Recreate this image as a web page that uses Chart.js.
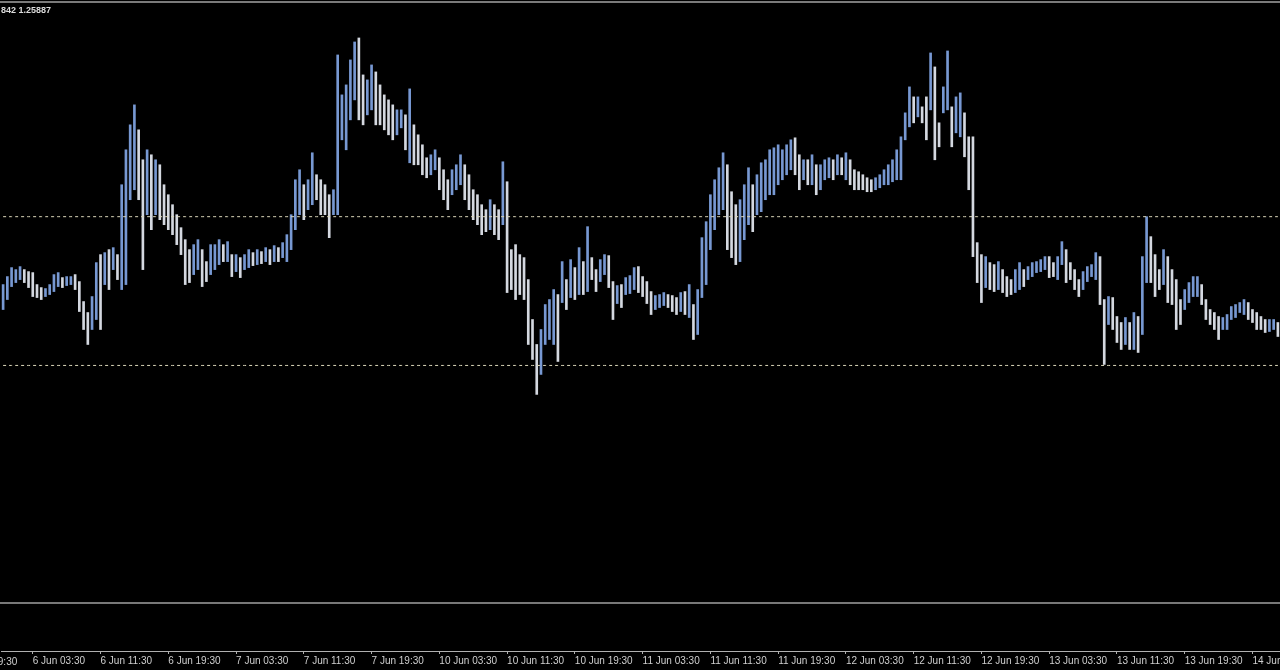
<!DOCTYPE html>
<html>
<head>
<meta charset="utf-8">
<script src="https://cdn.jsdelivr.net/npm/chart.js@4"></script>
<style>
  html, body { margin: 0; padding: 0; background: #000; }
  canvas { display: block; }
</style>
</head>
<body>
<canvas id="chart" width="1280" height="670"></canvas>
<script>
// 30 minute bars, weekend skipped
const days = ['6 Jun', '7 Jun', '10 Jun', '11 Jun', '12 Jun', '13 Jun', '14 Jun'];
const lastDayBars = 14;
const tickTimes = ['03:30', '11:30', '19:30'];
const leadLabel = '5 Jun 19:30';   // previous label, cut off at the left edge
const leadOffset = -9;             // its bar position before the first bar
const headerText = '842 1.25887';

const highs = [
  1.27375, 1.27415, 1.2746, 1.2745, 1.27465, 1.2745, 1.2744, 1.27435, 1.27375, 1.2736,
  1.27355, 1.27375, 1.27425, 1.27435, 1.2741, 1.27415, 1.27415, 1.27425, 1.2739, 1.2729,
  1.27235, 1.27315, 1.27485, 1.27525, 1.27535, 1.2755, 1.2756, 1.27525, 1.27875, 1.2805,
  1.28175, 1.28275, 1.2815, 1.2800, 1.2805, 1.28025, 1.2800, 1.27975, 1.27875, 1.27825,
  1.27775, 1.27725, 1.2766, 1.2760, 1.2755, 1.27575, 1.2760, 1.2755, 1.2749, 1.27575,
  1.27575, 1.2760, 1.27575, 1.2759, 1.27525, 1.27525, 1.2751, 1.27525, 1.2755, 1.27535,
  1.2755, 1.2754, 1.2756, 1.2755, 1.2757, 1.2756, 1.27585, 1.27625, 1.27725, 1.2790,
  1.2795, 1.27875, 1.2790, 1.28035, 1.27925, 1.2790, 1.27875, 1.27825, 1.2785, 1.28525,
  1.28325, 1.28375, 1.2850, 1.2859, 1.2861, 1.28425, 1.2840, 1.28475, 1.2844, 1.28375,
  1.28325, 1.2830, 1.28275, 1.2825, 1.2825, 1.28225, 1.28355, 1.28175, 1.28125, 1.28075,
  1.2801, 1.28025, 1.2805, 1.2801, 1.2795, 1.2790, 1.2795, 1.27975, 1.28025, 1.27975,
  1.27925, 1.2785, 1.27825, 1.27775, 1.2775, 1.2780, 1.27775, 1.2775, 1.2799, 1.2789,
  1.2755, 1.27575, 1.27525, 1.2751, 1.2740, 1.2720, 1.27075, 1.2715, 1.27275, 1.2730,
  1.2735, 1.27325, 1.2749, 1.2740, 1.2750, 1.2746, 1.2756, 1.2749, 1.27665, 1.2751,
  1.2745, 1.2750, 1.27525, 1.2752, 1.2739, 1.2737, 1.27375, 1.2741, 1.2742, 1.2746,
  1.27465, 1.27415, 1.2739, 1.2734, 1.2732, 1.27325, 1.27335, 1.27325, 1.2732, 1.2731,
  1.27335, 1.2734, 1.27375, 1.27275, 1.2735, 1.2761, 1.2769, 1.27825, 1.2790, 1.2796,
  1.28035, 1.27975, 1.2784, 1.27775, 1.2780, 1.27875, 1.2796, 1.27875, 1.27925, 1.27985,
  1.2800, 1.2805, 1.2806, 1.28075, 1.2805, 1.28075, 1.2810, 1.2811, 1.28025, 1.2800,
  1.2800, 1.28025, 1.27975, 1.27975, 1.2800, 1.2801, 1.2800, 1.28025, 1.2801, 1.28035,
  1.2800, 1.2795, 1.2794, 1.27925, 1.2791, 1.2790, 1.2791, 1.27925, 1.2795, 1.27975,
  1.2800, 1.2805, 1.28115, 1.28235, 1.28365, 1.28315, 1.28315, 1.28265, 1.28315, 1.28535,
  1.28465, 1.28185, 1.28365, 1.28545, 1.28265, 1.28315, 1.28335, 1.28235, 1.28115, 1.28115,
  1.27585, 1.27525, 1.27515, 1.27485, 1.27475, 1.2749, 1.2745, 1.27415, 1.2740, 1.2745,
  1.27485, 1.2745, 1.27465, 1.27485, 1.2749, 1.2750, 1.27515, 1.27515, 1.27485, 1.27515,
  1.2759, 1.2755, 1.27485, 1.2745, 1.2740, 1.2744, 1.27465, 1.27475, 1.27535, 1.27515,
  1.2730, 1.27315, 1.2731, 1.27215, 1.27185, 1.2721, 1.27185, 1.27235, 1.27215, 1.27515,
  1.27715, 1.27615, 1.27525, 1.2745, 1.2755, 1.27515, 1.2745, 1.2740, 1.2730, 1.2735,
  1.27385, 1.27415, 1.27415, 1.27375, 1.2730, 1.2725, 1.27235, 1.27215, 1.2721, 1.27225,
  1.27265, 1.27275, 1.27285, 1.2730, 1.27285, 1.2725, 1.27235, 1.27215, 1.2720, 1.2720,
  1.2720, 1.27185
];

const lows = [
  1.2725, 1.2730, 1.27365, 1.27385, 1.2740, 1.27385, 1.2736, 1.27315, 1.2731, 1.2730,
  1.27315, 1.27325, 1.2734, 1.27365, 1.2736, 1.2737, 1.27375, 1.2735, 1.2724, 1.2715,
  1.27075, 1.2715, 1.2720, 1.2715, 1.27375, 1.2735, 1.2745, 1.2740, 1.2735, 1.27375,
  1.2780, 1.2785, 1.2780, 1.2745, 1.27725, 1.2765, 1.27725, 1.2770, 1.27675, 1.2765,
  1.27625, 1.27575, 1.27525, 1.27375, 1.27385, 1.27425, 1.2745, 1.27365, 1.2739, 1.27425,
  1.2745, 1.27475, 1.2749, 1.2749, 1.27415, 1.2744, 1.2741, 1.2745, 1.2746, 1.2747,
  1.27475, 1.2748, 1.2749, 1.27475, 1.2749, 1.2749, 1.2751, 1.2749, 1.2755, 1.2765,
  1.27725, 1.2770, 1.2775, 1.27775, 1.2780, 1.27725, 1.27725, 1.2761, 1.27725, 1.27725,
  1.2810, 1.2805, 1.2820, 1.2830, 1.2820, 1.28175, 1.28225, 1.2825, 1.28175, 1.28175,
  1.2815, 1.28125, 1.2810, 1.28125, 1.2816, 1.2805, 1.27985, 1.27975, 1.27975, 1.27925,
  1.2791, 1.27925, 1.2795, 1.2785, 1.2780, 1.2775, 1.27825, 1.2785, 1.27875, 1.2780,
  1.2775, 1.2770, 1.27675, 1.27625, 1.2764, 1.2765, 1.27625, 1.2760, 1.27675, 1.27335,
  1.2735, 1.2730, 1.27325, 1.2730, 1.27075, 1.2700, 1.26825, 1.26925, 1.27075, 1.2710,
  1.27075, 1.2699, 1.27285, 1.2725, 1.2731, 1.2730, 1.27325, 1.27325, 1.2734, 1.2740,
  1.2734, 1.2739, 1.27425, 1.2736, 1.2720, 1.2728, 1.2726, 1.27325, 1.2733, 1.2735,
  1.27335, 1.27315, 1.2728, 1.27225, 1.2725, 1.2726, 1.2727, 1.2726, 1.2724, 1.27225,
  1.2724, 1.27225, 1.2721, 1.2710, 1.27125, 1.2731, 1.27375, 1.2755, 1.2765, 1.27725,
  1.2775, 1.2755, 1.2751, 1.27475, 1.2749, 1.2760, 1.27675, 1.2764, 1.27725, 1.2774,
  1.2780, 1.27825, 1.27825, 1.27875, 1.2790, 1.27925, 1.2795, 1.27925, 1.2785, 1.2790,
  1.27875, 1.27875, 1.27825, 1.2785, 1.2790, 1.2791, 1.2790, 1.27925, 1.27925, 1.2790,
  1.27875, 1.2785, 1.2785, 1.2785, 1.2784, 1.2784, 1.2785, 1.2786, 1.27875, 1.27875,
  1.2789, 1.2790, 1.2790, 1.2810, 1.28165, 1.28185, 1.28215, 1.28185, 1.2810, 1.2825,
  1.2800, 1.28065, 1.28235, 1.2825, 1.28065, 1.28135, 1.28115, 1.28015, 1.2785, 1.27515,
  1.27385, 1.27285, 1.2736, 1.2735, 1.2734, 1.2735, 1.27335, 1.27315, 1.27325, 1.27335,
  1.2735, 1.27365, 1.2740, 1.27415, 1.27435, 1.2744, 1.2745, 1.2741, 1.27415, 1.2740,
  1.27475, 1.27385, 1.2740, 1.2735, 1.27315, 1.2735, 1.2739, 1.27415, 1.2740, 1.27275,
  1.26975, 1.27175, 1.2715, 1.27085, 1.2705, 1.27075, 1.2705, 1.2705, 1.27035, 1.27125,
  1.27385, 1.27385, 1.27315, 1.2735, 1.27375, 1.27285, 1.27275, 1.2715, 1.27175, 1.2725,
  1.27285, 1.27315, 1.27315, 1.27275, 1.2720, 1.27175, 1.2715, 1.2710, 1.2715, 1.2715,
  1.2720, 1.2721, 1.27235, 1.27225, 1.2720, 1.27185, 1.2715, 1.2715, 1.27135, 1.2714,
  1.2715, 1.27115
];

// dotted horizontal levels
const levels = [1.27715, 1.2697];

const upColor = '#7798d2';
const downColor = '#d4d8e0';
const levelColor = '#dcd8ba';
const axisColor = '#b0b0b0';
const textColor = '#cfcfcf';
const fontFamily = '"Liberation Sans", Arial, sans-serif';

const halfHours = [];
for (let h = 0; h < 24; h++) {
  const hh = String(h).padStart(2, '0');
  halfHours.push(hh + ':00', hh + ':30');
}
const labels = [];
days.forEach((d, k) => {
  const n = k === days.length - 1 ? lastDayBars : halfHours.length;
  for (let j = 0; j < n; j++) labels.push(d + ' ' + halfHours[j]);
});

const isTick = i => tickTimes.includes(labels[i].split(' ').pop());

const barColors = highs.map((h, i) => {
  if (i === 0) return upColor;
  const mid = (h + lows[i]) / 2;
  const prev = (highs[i - 1] + lows[i - 1]) / 2;
  return mid >= prev ? upColor : downColor;
});

// window frame: top border, separator of the empty sub-window, cut-off first label
const frameLines = {
  id: 'frameLines',
  afterDraw(chart) {
    const ctx = chart.ctx;
    const x = chart.scales.x;
    ctx.save();
    ctx.strokeStyle = '#7a7a7a';
    ctx.lineWidth = 2;
    ctx.beginPath();
    ctx.moveTo(0, 2);
    ctx.lineTo(chart.width, 2);
    ctx.stroke();
    ctx.strokeStyle = '#a0a0a0';
    ctx.lineWidth = 1.5;
    ctx.beginPath();
    ctx.moveTo(0, 603);
    ctx.lineTo(chart.width, 603);
    ctx.stroke();
    ctx.fillStyle = textColor;
    ctx.font = '10px ' + fontFamily;
    ctx.textAlign = 'left';
    ctx.textBaseline = 'middle';
    ctx.fillText(leadLabel, x.getPixelForValue(leadOffset), x.bottom - 6);
    ctx.restore();
  }
};

const ctx = document.getElementById('chart').getContext('2d');
new Chart(ctx, {
  type: 'bar',
  data: {
    labels: labels,
    datasets: [
      ...levels.map(v => ({
        type: 'line',
        data: labels.map(() => v),
        borderColor: levelColor,
        borderWidth: 1,
        borderDash: [3, 3],
        pointRadius: 0,
        order: 0
      })),
      {
        type: 'bar',
        data: highs.map((h, i) => [lows[i], h]),
        backgroundColor: barColors,
        barThickness: 2,
        borderWidth: 0,
        order: 1
      }
    ]
  },
  options: {
    responsive: false,
    animation: false,
    layout: { padding: { left: 1, right: 0, top: 0, bottom: 2 } },
    plugins: {
      legend: { display: false },
      tooltip: { enabled: false },
      title: {
        display: true,
        text: headerText,
        align: 'start',
        color: '#dcdcdc',
        font: { family: fontFamily, size: 9, weight: 'bold', lineHeight: 1.333 },
        padding: { top: 5, bottom: 3 }
      }
    },
    scales: {
      x: {
        offset: true,
        grid: {
          offset: false,
          drawOnChartArea: false,
          drawTicks: true,
          tickLength: 3,
          tickColor: c => isTick(c.index) ? axisColor : 'rgba(0,0,0,0)'
        },
        border: { display: true, color: axisColor, width: 1 },
        ticks: {
          autoSkip: false,
          maxRotation: 0,
          minRotation: 0,
          align: 'start',
          padding: 1,
          color: textColor,
          font: { family: fontFamily, size: 10, lineHeight: 1.2 },
          callback: function (value, index) {
            return isTick(index) ? this.getLabelForValue(value) : '';
          }
        }
      },
      y: {
        display: false,
        min: 1.2554,
        max: 1.2870
      }
    }
  },
  plugins: [frameLines]
});
</script>
</body>
</html>
